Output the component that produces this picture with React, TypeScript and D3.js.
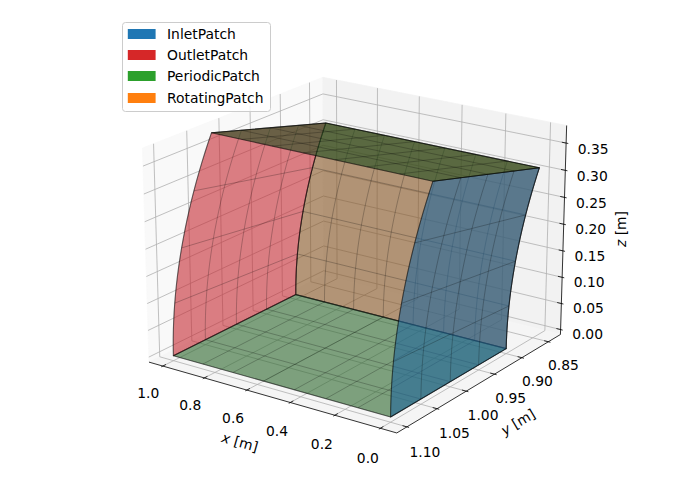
import React from "react";
import * as d3 from "d3";

// ---- data ----
const xStations = [0, 0.143, 0.286, 0.429, 0.571, 0.714, 0.857, 1];
const radii = [0.9, 0.95, 1.0, 1.05, 1.1];
const thetasDeg = [0, 5, 10, 15, 20];
const xTicks = [0, 0.2, 0.4, 0.6, 0.8, 1.0];
const yTicks = [0.85, 0.9, 0.95, 1.0, 1.05, 1.1];
const zTicks = [0, 0.05, 0.1, 0.15, 0.2, 0.25, 0.3, 0.35];
const legendNames = ["InletPatch", "OutletPatch", "PeriodicPatch", "RotatingPatch"];
const legendColors = ["#1f77b4", "#d62728", "#2ca02c", "#ff7f0e"];
const xLim: [number, number] = [-0.0708, 1.0675];
const yLim: [number, number] = [0.8267, 1.1164];
const zLim: [number, number] = [-0.0095, 0.382];

// ---- projection (matplotlib style perspective) ----
const W = 700, H = 500;
const elev = (20 * Math.PI) / 180, azim = (125 * Math.PI) / 180, dist = 10;
const cx = 357.5, cy = 244, scale = 2520;
const hXY = 0.595, hZ = 0.4464;
const sx = d3.scaleLinear().domain(xLim).range([-hXY, hXY]);
const sy = d3.scaleLinear().domain(yLim).range([-hXY, hXY]);
const sz = d3.scaleLinear().domain(zLim).range([-hZ, hZ]);
const n = [Math.cos(elev) * Math.cos(azim), Math.cos(elev) * Math.sin(azim), Math.sin(elev)];
const u = [-Math.sin(azim), Math.cos(azim), 0];
const v = [-Math.cos(azim) * Math.sin(elev), -Math.sin(azim) * Math.sin(elev), Math.cos(elev)];
const project = (x: number, y: number, z: number): [number, number] => {
  const X = sx(x), Y = sy(y), Z = sz(z);
  const d = dist - (n[0] * X + n[1] * Y + n[2] * Z);
  const xv = u[0] * X + u[1] * Y;
  const yv = v[0] * X + v[1] * Y + v[2] * Z;
  return [cx + (scale * xv) / d, cy - (scale * yv) / d];
};
const rad = (deg: number) => (deg * Math.PI) / 180;
const sector = (x: number, r: number, deg: number) =>
  project(x, r * Math.cos(rad(deg)), r * Math.sin(rad(deg)));

const line = d3.line<[number, number]>();
const thMin = thetasDeg[0], thMax = thetasDeg[thetasDeg.length - 1];
const rMin = radii[0], rMax = radii[radii.length - 1];
const xMin = xStations[0], xMax = xStations[xStations.length - 1];
const fine = d3.range(0, 1.0001, 1 / 24).map((t) => thMin + (thMax - thMin) * t);

const arc = (x: number, r: number, rev = false) => {
  const a = fine.map((t) => sector(x, r, t));
  return rev ? a.reverse() : a;
};
const seg = (a: [number, number], b: [number, number]) => line([a, b]) as string;

type Layer = { fill: string; shape: [number, number][]; mesh: string[] };

// end face at fixed x
const capLayer = (x: number, fill: string): Layer => ({
  fill,
  shape: [...arc(x, rMin), ...arc(x, rMax, true)],
  mesh: [
    ...radii.map((r) => line(arc(x, r)) as string),
    ...thetasDeg.map((t) => seg(sector(x, rMin, t), sector(x, rMax, t))),
  ],
});
// flat face at fixed theta
const planeLayer = (deg: number, fill: string): Layer => ({
  fill,
  shape: [sector(xMin, rMin, deg), sector(xMax, rMin, deg), sector(xMax, rMax, deg), sector(xMin, rMax, deg)],
  mesh: [
    ...radii.map((r) => seg(sector(xMin, r, deg), sector(xMax, r, deg))),
    ...xStations.map((x) => seg(sector(x, rMin, deg), sector(x, rMax, deg))),
  ],
});
// curved wall at r
const wallLayer = (r: number, fill: string): Layer => ({
  fill,
  shape: [...arc(xMin, r), ...arc(xMax, r, true)],
  mesh: [
    ...xStations.map((x) => line(arc(x, r)) as string),
    ...thetasDeg.map((t) => seg(sector(xMin, r, t), sector(xMax, r, t))),
  ],
});

const layers: Layer[] = [
  wallLayer(rMin, "rgba(133,83,33,0.6)"),
  planeLayer(thMin, "rgba(45,103,45,0.6)"),
  capLayer(xMax, "rgba(197,42,50,0.6)"),
  capLayer(xMin, "rgba(31,101,155,0.6)"),
  planeLayer(thMax, "rgba(32,77,30,0.6)"),
];

const P = (x: number, y: number, z: number) => project(x, y, z);
const poly = (pts: [number, number][]) => (line(pts) as string) + "Z";
const [x0, x1] = xLim, [y0, y1] = yLim, [z0, z1] = zLim;
const dy = (y1 - y0) / 12, dx = (x1 - x0) / 12;
const font = "'DejaVu Sans', sans-serif";
const fs = 13.89;
const lab = { fontFamily: font, fontSize: fs, fill: "#000", textAnchor: "middle" as const, dominantBaseline: "central" as const };
// label pads drift along each axis, as the projected tick pad does
const xPadX = d3.scaleLinear().domain([0, 1]).range([-12.5, -14.5]);
const xPadY = d3.scaleLinear().domain([0, 1]).range([29.5, 26.5]);
const yPadX = d3.scaleLinear().domain([0.85, 1.1]).range([15, 18]);
const yPadY = d3.scaleLinear().domain([0.85, 1.1]).range([23, 24.7]);
const zPadY = d3.scaleLinear().domain([0, 0.35]).range([4, 6]);

export default function App() {
  const rows = [29, 50, 71, 93];
  return (
    <svg width={W} height={H} viewBox={`0 0 ${W} ${H}`} style={{ position: "absolute", left: 0, top: 0, background: "#fff" }}>
      {/* panes */}
      <path d={poly([P(x1, y0, z0), P(x1, y1, z0), P(x1, y1, z1), P(x1, y0, z1)])} fill="#f9f9f9" stroke="#f9f9f9" strokeWidth={0.8} />
      <path d={poly([P(x0, y0, z0), P(x1, y0, z0), P(x1, y0, z1), P(x0, y0, z1)])} fill="#f2f2f2" stroke="#f2f2f2" strokeWidth={0.8} />
      <path d={poly([P(x0, y0, z0), P(x1, y0, z0), P(x1, y1, z0), P(x0, y1, z0)])} fill="#f5f5f5" stroke="#f5f5f5" strokeWidth={0.8} />
      {/* grid */}
      <g fill="none" stroke="#b0b0b0" strokeWidth={0.8}>
        {xTicks.map((t) => (
          <path key={"gx" + t} d={line([P(t, y1, z0), P(t, y0, z0), P(t, y0, z1)]) as string} />
        ))}
        {yTicks.map((t) => (
          <path key={"gy" + t} d={line([P(x0, t, z0), P(x1, t, z0), P(x1, t, z1)]) as string} />
        ))}
        {zTicks.map((t) => (
          <path key={"gz" + t} d={line([P(x0, y0, t), P(x1, y0, t), P(x1, y1, t)]) as string} />
        ))}
      </g>
      {/* surfaces */}
      {layers.map((l, i) => (
        <g key={i}>
          <path d={poly(l.shape)} fill={l.fill} stroke="none" />
          <g fill="none" stroke="#000" strokeOpacity={0.34} strokeWidth={0.7}>
            {l.mesh.map((m, j) => (
              <path key={j} d={m} />
            ))}
          </g>
          <path d={poly(l.shape)} fill="none" stroke="#000" strokeOpacity={0.45} strokeWidth={1.1} strokeLinejoin="round" />
        </g>
      ))}
      {/* axes */}
      <g stroke="#000" strokeWidth={0.8} fill="none">
        <path d={line([P(x1, y1, z0), P(x0, y1, z0)]) as string} />
        <path d={line([P(x0, y1, z0), P(x0, y0, z0)]) as string} />
        <path d={line([P(x0, y0, z0), P(x0, y0, z1)]) as string} />
        {xTicks.map((t) => (
          <path key={"tx" + t} d={line([P(t, y1 + 0.1 * dy, z0), P(t, y1 - 0.2 * dy, z0)]) as string} />
        ))}
        {yTicks.map((t) => (
          <path key={"ty" + t} d={line([P(x0 - 0.1 * dx, t, z0), P(x0 + 0.2 * dx, t, z0)]) as string} />
        ))}
        {zTicks.map((t) => (
          <path key={"tz" + t} d={line([P(x0 - 0.1 * dx, y0, t), P(x0 + 0.2 * dx, y0, t)]) as string} />
        ))}
      </g>
      {/* tick labels */}
      {xTicks.map((t) => {
        const [a, b] = P(t, y1, z0);
        return <text key={"lx" + t} x={a + xPadX(t)} y={b + xPadY(t)} {...lab}>{d3.format(".1f")(t)}</text>;
      })}
      {yTicks.map((t) => {
        const [a, b] = P(x0, t, z0);
        return <text key={"ly" + t} x={a + yPadX(t)} y={b + yPadY(t)} {...lab}>{d3.format(".2f")(t)}</text>;
      })}
      {zTicks.map((t) => {
        const [a, b] = P(x0, y0, t);
        return <text key={"lz" + t} x={a + 27} y={b + zPadY(t)} {...lab}>{d3.format(".2f")(t)}</text>;
      })}
      {/* axis titles */}
      <text transform="translate(240,442) rotate(15.9)" {...lab}><tspan fontStyle="italic">x</tspan> [m]</text>
      <text transform="translate(518,422) rotate(-31)" {...lab}><tspan fontStyle="italic">y</tspan> [m]</text>
      <text transform="translate(621,229) rotate(-90)" {...lab}><tspan fontStyle="italic">z</tspan> [m]</text>
      {/* legend */}
      <rect x={122.5} y={22.5} width={148} height={89} rx={3} fill="#fff" fillOpacity={0.8} stroke="#ccc" strokeWidth={1} />
      {legendNames.map((name, i) => (
        <g key={name}>
          <rect x={127.8} y={rows[i]} width={27.8} height={10} fill={legendColors[i]} />
          <text x={167} y={rows[i] + 5} fontFamily={font} fontSize={fs} dominantBaseline="central">{name}</text>
        </g>
      ))}
    </svg>
  );
}
